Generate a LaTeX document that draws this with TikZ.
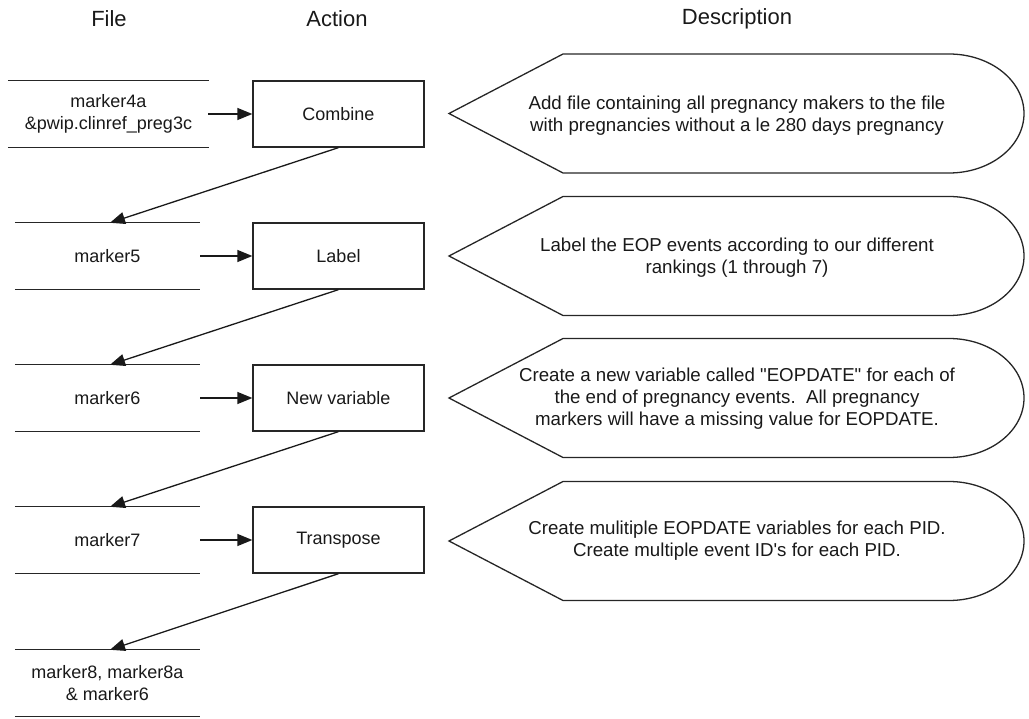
\documentclass[tikz,border=0pt]{standalone}
\usepackage{fontspec}
\setmainfont{Liberation Sans}
\usetikzlibrary{arrows.meta}

\begin{document}
\begin{tikzpicture}[x=1pt,y=-1pt,
  every node/.style={font=\fontsize{18}{21.5}\selectfont, text=black!90, inner sep=0pt},
  header/.style={font=\fontsize{22}{26}\selectfont},
  filenode/.style={minimum height=66pt, align=center},
  rule/.style={line width=1.3pt, black!85},
  actionbox/.style={draw=black!85, line width=1.3pt, minimum width=171pt, minimum height=66pt},
  arr/.style={line width=1.3pt, black!90, -{Triangle[length=15pt,width=12pt]}},
  desctext/.style={align=center, font=\fontsize{18.7}{22}\selectfont},
  descout/.pic={
    \draw[line width=1.3pt, black!85]
      (449,0) -- (563,-59.5) -- (949,-59.5)
      .. controls (990.4,-59.5) and (1024,-32.9) .. (1024,0)
      .. controls (1024,32.9) and (990.4,59.5) .. (949,59.5)
      -- (563,59.5) -- cycle;
  }
]
\path[use as bounding box] (0,0) rectangle (1029,719);

% column headings
\node[header] (hfile) at (109,19) {File};
\node[header] (haction) at (337,19) {Action};
\node[header] (hdesc) at (737,19) {Description};

% files
\node[filenode, minimum width=201pt] (f1) at (108.5,114) {marker4a\\\&pwip.clinref\_preg3c};
\node[filenode, minimum width=185pt] (f2) at (107.5,256) {marker5};
\node[filenode, minimum width=185pt] (f3) at (107.5,398) {marker6};
\node[filenode, minimum width=185pt] (f4) at (107.5,540) {marker7};
\node[filenode, minimum width=185pt] (f5) at (107.5,683) {marker8, marker8a\\\& marker6};
\foreach \f in {f1,f2,f3,f4,f5}{
  \draw[rule] (\f.north west) -- (\f.north east);
  \draw[rule] (\f.south west) -- (\f.south east);
}

% actions
\node[actionbox] (a1) at (338.5,114) {Combine};
\node[actionbox] (a2) at (338.5,256) {Label};
\node[actionbox] (a3) at (338.5,398) {New variable};
\node[actionbox] (a4) at (338.5,540) {Transpose};

% descriptions
\pic at (0,113.5) {descout};
\pic at (0,256) {descout};
\pic at (0,398) {descout};
\pic at (0,541) {descout};
\node[desctext] (d1) at (737,116) {Add file containing all pregnancy makers to the file\\with pregnancies without a le 280 days pregnancy};
\node[desctext] (d2) at (737,258) {Label the EOP events according to our different\\rankings (1 through 7)};
\node[desctext] (d3) at (737,399) {Create a new variable called \textquotedbl EOPDATE\textquotedbl{} for each of\\the end of pregnancy events.\ \ All pregnancy\\markers will have a missing value for EOPDATE.};
\node[desctext] (d4) at (737,541) {Create mulitiple EOPDATE variables for each PID.\\Create multiple event ID\textquotesingle s for each PID.};

% flow
\draw[arr] ([xshift=-1pt]f1.east) -- (a1.west);
\draw[arr] (f2.east) -- (a2.west);
\draw[arr] (f3.east) -- (a3.west);
\draw[arr] (f4.east) -- (a4.west);
\draw[arr] (a1.south) -- ([xshift=2.5pt]f2.north);
\draw[arr] (a2.south) -- ([xshift=2.5pt]f3.north);
\draw[arr] (a3.south) -- ([xshift=2.5pt]f4.north);
\draw[arr] (a4.south) -- ([xshift=2.5pt]f5.north);
\end{tikzpicture}
\end{document}
